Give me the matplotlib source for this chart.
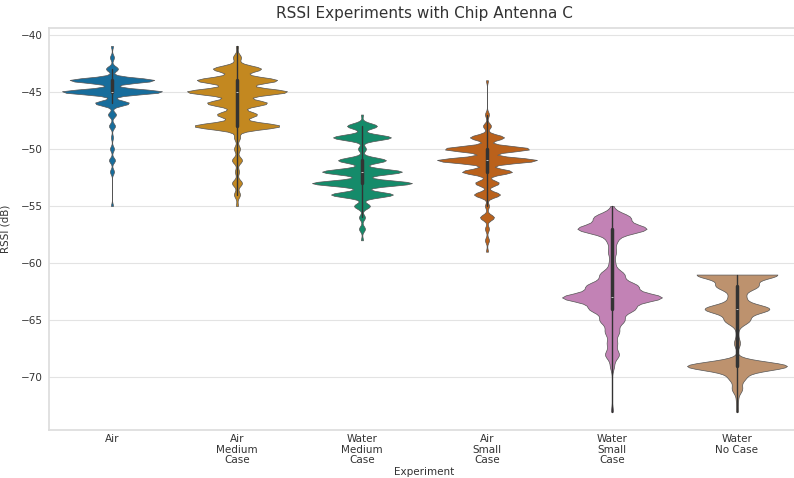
import numpy as np
import pandas as pd
import matplotlib
matplotlib.use("Agg")
import matplotlib.pyplot as plt
import seaborn as sns

# experiment names as shown on the x axis
experiments = ["Air", "Air\nMedium\nCase", "Water\nMedium\nCase",
               "Air\nSmall\nCase", "Water\nSmall\nCase", "Water\nNo Case"]

# RSSI readings (dB) -> number of samples
air_levels = list(range(-41, -56, -1))
air_counts = [1, 2, 6, 42, 50, 17, 4, 3, 1, 2, 3, 2, 0, 0, 1]

air_med_levels = list(range(-41, -56, -1))
air_med_counts = [1, 4, 24, 40, 50, 30, 20, 43, 3, 3, 5, 2, 5, 3, 1]

water_med_levels = list(range(-47, -59, -1))
water_med_counts = [1, 15, 29, 4, 24, 40, 50, 31, 8, 3, 3, 1]

air_small_levels = list(range(-44, -60, -1))
air_small_counts = [1, 0, 0, 2, 4, 17, 43, 50, 25, 12, 13, 2, 7, 2, 2, 1]

water_small_levels = list(range(-55, -74, -1))
water_small_counts = [1, 18, 35, 5, 4, 3, 12, 25, 50, 22, 12, 7, 5, 7, 2, 0, 0, 0, 1]

water_none_levels = list(range(-61, -74, -1))
water_none_counts = [40, 20, 8, 32, 12, 1, 3, 0, 50, 8, 5, 1, 1]


def build_frame():
    groups = [
        (air_levels, air_counts),
        (air_med_levels, air_med_counts),
        (water_med_levels, water_med_counts),
        (air_small_levels, air_small_counts),
        (water_small_levels, water_small_counts),
        (water_none_levels, water_none_counts),
    ]
    rows = []
    for name, (levels, counts) in zip(experiments, groups):
        vals = np.repeat(levels, counts)
        rows.append(pd.DataFrame({"Experiment": name, "RSSI": vals}))
    return pd.concat(rows, ignore_index=True)


def main():
    sns.set_theme(style="whitegrid")
    plt.rcParams["font.family"] = ["DejaVu Sans"]
    plt.rcParams["grid.color"] = "#e3e3e3"
    plt.rcParams["grid.linewidth"] = 0.8
    plt.rcParams["axes.edgecolor"] = "#dddddd"
    df = build_frame()

    fig = plt.figure(figsize=(7.94, 4.78), dpi=100)
    ax = fig.add_axes([0.0623, 0.1004, 0.9446, 0.8417])

    sns.violinplot(data=df, x="Experiment", y="RSSI", hue="Experiment",
                   order=experiments, palette="colorblind", legend=False,
                   bw_method=0.11, cut=0, density_norm="width", inner="box",
                   gridsize=100, linewidth=0.5, linecolor="#555555",
                   inner_kws=dict(box_width=2.5, whis_width=1.0,
                                  color="#333333", markersize=1.5),
                   ax=ax)

    ax.set_title("RSSI Experiments with Chip Antenna C", fontsize=11,
                 color="#333333", pad=7)
    ax.set_xlabel("Experiment", fontsize=7.5, color="#333333")
    ax.set_ylabel("RSSI (dB)", fontsize=7.5, color="#333333")
    ax.tick_params(axis="both", length=0, labelsize=7.5, colors="#333333")
    ax.tick_params(axis="x", pad=3)
    ax.tick_params(axis="y", pad=5)
    for lbl in ax.get_xticklabels():
        lbl.set_linespacing(1.05)
    ax.set_yticks([-40, -45, -50, -55, -60, -65, -70])
    ax.xaxis.set_label_coords(0.5, -0.092)
    ax.yaxis.set_label_coords(-0.052, 0.5)

    fig.savefig("out.png", dpi=100)


if __name__ == "__main__":
    main()
